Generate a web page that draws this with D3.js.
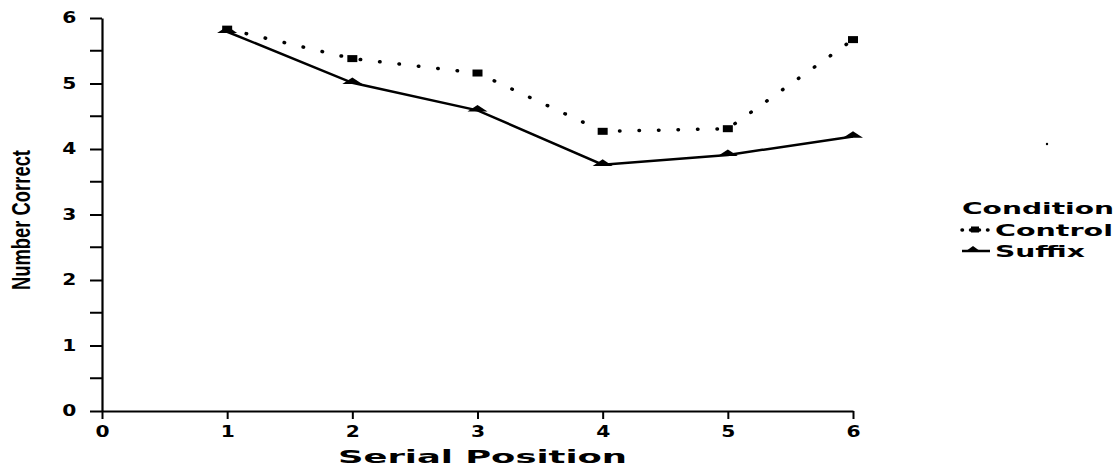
<!DOCTYPE html>
<html>
<head>
<meta charset="utf-8">
<script src="https://cdn.jsdelivr.net/npm/d3@7"></script>
<style>
  body { margin: 0; background: #fff; }
  text { font-family: "DejaVu Sans", sans-serif; font-weight: bold; fill: #000; }
</style>
</head>
<body>
<div id="chart"></div>
<script>
// values
var positions = [1, 2, 3, 4, 5, 6];
var controlVals = [5.83, 5.38, 5.16, 4.27, 4.31, 5.67];
var suffixVals = [5.79, 5.01, 4.59, 3.76, 3.91, 4.19];
var xTicks = [0, 1, 2, 3, 4, 5, 6];
var yTicks = [0, 1, 2, 3, 4, 5, 6];
var yMinor = [0.5, 1.5, 2.5, 3.5, 4.5, 5.5];

var margin = {top: 18, left: 102, right: 267, bottom: 57};
var W = 1120, H = 468;
var width = W - margin.left - margin.right;
var height = H - margin.top - margin.bottom;

var svg = d3.select("#chart").append("svg")
  .attr("width", W)
  .attr("height", H);

var g = svg.append("g")
  .attr("transform", "translate(" + margin.left + "," + margin.top + ")");

var x = d3.scaleLinear().domain([0, 6]).range([0, width]);
var y = d3.scaleLinear().domain([0, 6]).range([height, 0]);

// x axis
var xAxis = g.append("g")
  .attr("transform", "translate(0," + height + ")")
  .call(d3.axisBottom(x).tickValues(xTicks).tickSize(8).tickSizeOuter(0).tickFormat(d3.format("d")));
xAxis.select(".domain").attr("stroke-width", 2.2);
xAxis.selectAll(".tick line").attr("stroke-width", 2);
xAxis.selectAll(".tick text")
  .attr("x", 0)
  .attr("y", 15)
  .style("font-size", "15px")
  .style("font-weight", "900")
  .attr("transform", "scale(1.35,1)");

// y axis
var yAxis = g.append("g")
  .call(d3.axisLeft(y).tickValues(yTicks).tickSize(12).tickSizeOuter(0).tickFormat(d3.format("d")));
yAxis.select(".domain").attr("stroke-width", 2.2);
yAxis.selectAll(".tick line").attr("stroke-width", 2);
yAxis.selectAll(".tick text")
  .attr("x", -19)
  .style("font-size", "15px")
  .attr("transform", "scale(1.35,1)");

g.append("g").selectAll("line")
  .data(yMinor)
  .enter().append("line")
  .attr("x1", -12).attr("x2", 0)
  .attr("y1", d => y(d)).attr("y2", d => y(d))
  .attr("stroke", "#000").attr("stroke-width", 2);

// lines
var line = d3.line()
  .x(d => x(d[0]))
  .y(d => y(d[1]));

var controlData = positions.map((p, i) => [p, controlVals[i]]);
var suffixData = positions.map((p, i) => [p, suffixVals[i]]);

g.append("path")
  .datum(controlData)
  .attr("d", line)
  .attr("fill", "none")
  .attr("stroke", "#000")
  .attr("stroke-width", 3.5)
  .attr("stroke-linecap", "round")
  .attr("stroke-dasharray", "0.5,19");

g.append("path")
  .datum(suffixData)
  .attr("d", line)
  .attr("fill", "none")
  .attr("stroke", "#000")
  .attr("stroke-width", 2.5);

// markers
g.selectAll(".sq")
  .data(controlData)
  .enter().append("rect")
  .attr("class", "sq")
  .attr("x", d => x(d[0]) - 5)
  .attr("y", d => y(d[1]) - 3.5)
  .attr("width", 10)
  .attr("height", 7)
  .attr("fill", "#000");

var tri = d3.symbol().type(d3.symbolTriangle).size(60);
g.selectAll(".tri")
  .data(suffixData)
  .enter().append("path")
  .attr("class", "tri")
  .attr("d", tri)
  .attr("transform", d => "translate(" + x(d[0]) + "," + (y(d[1]) - 1) + ") scale(1.7,0.65)")
  .attr("fill", "#000");

// axis titles
svg.append("text")
  .attr("x", 338)
  .attr("y", 463)
  .attr("textLength", 289)
  .attr("lengthAdjust", "spacingAndGlyphs")
  .style("font-size", "17px")
  .text("Serial Position");

svg.append("text")
  .attr("transform", "translate(30,290) rotate(-90)")
  .attr("textLength", 140)
  .attr("lengthAdjust", "spacingAndGlyphs")
  .style("font-size", "25px")
  .style("font-family", "'Liberation Sans', sans-serif")
  .text("Number Correct");

// legend
var legend = svg.append("g").attr("transform", "translate(962,0)");
legend.append("text")
  .attr("x", 0).attr("y", 214)
  .attr("textLength", 152)
  .attr("lengthAdjust", "spacingAndGlyphs")
  .style("font-size", "15px")
  .text("Condition");

legend.append("line")
  .attr("x1", 0).attr("x2", 28).attr("y1", 230).attr("y2", 230)
  .attr("stroke", "#000").attr("stroke-width", 3.5)
  .attr("stroke-linecap", "round").attr("stroke-dasharray", "0.5,8");
legend.append("rect")
  .attr("x", 9).attr("y", 226.5).attr("width", 8).attr("height", 6).attr("fill", "#000");
legend.append("text")
  .attr("x", 33).attr("y", 236)
  .attr("textLength", 118)
  .attr("lengthAdjust", "spacingAndGlyphs")
  .style("font-size", "15px")
  .text("Control");

legend.append("line")
  .attr("x1", 0).attr("x2", 28).attr("y1", 251).attr("y2", 251)
  .attr("stroke", "#000").attr("stroke-width", 2.5);
legend.append("path")
  .attr("d", tri)
  .attr("transform", "translate(11,250) scale(1.4,0.6)")
  .attr("fill", "#000");
legend.append("text")
  .attr("x", 33).attr("y", 257)
  .attr("textLength", 90)
  .attr("lengthAdjust", "spacingAndGlyphs")
  .style("font-size", "15px")
  .text("Suffix");

// stray dot at the right of the original
svg.append("circle").attr("cx", 1047).attr("cy", 144).attr("r", 1.2).attr("fill", "#000");
</script>
</body>
</html>
